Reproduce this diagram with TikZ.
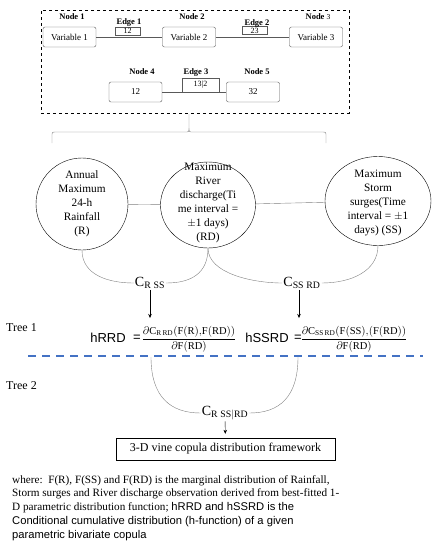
\documentclass[tikz,border=0pt]{standalone}
\usepackage{amsmath}
\usepackage{fontspec}
\setmainfont{Liberation Serif}
\setsansfont{Liberation Sans}
\usetikzlibrary{shapes.geometric,arrows.meta,positioning,calc}

\definecolor{lineblue}{RGB}{68,114,196}
\definecolor{arcgray}{RGB}{128,128,128}
\definecolor{boxgray}{RGB}{89,89,89}

\begin{document}
\begin{tikzpicture}[x=1pt,y=-1pt,
    var box/.style={draw=boxgray, rounded corners=2pt, minimum width=53pt, minimum height=20pt, inner sep=0pt, font=\fontsize{9}{10}\selectfont},
    edge box/.style={draw=boxgray, minimum height=8pt, inner sep=0pt, font=\fontsize{8}{9}\selectfont},
    tag/.style={inner sep=0pt, font=\fontsize{8.5}{10}\selectfont\bfseries},
    var circle/.style={draw, ellipse, inner sep=0pt},
    circle text/.style={align=center, inner sep=0pt, font=\fontsize{11.3}{14}\selectfont},
    cop/.style={inner sep=1pt, font=\fontsize{14}{16}\selectfont},
    link/.style={draw=arcgray},
    hlabel/.style={inner sep=0pt, font=\sffamily\fontsize{13}{15}\selectfont},
    frac text/.style={inner sep=0pt, font=\fontsize{10.5}{12}\selectfont},
    arr/.style={-{Stealth[length=4pt,width=3.5pt]}}]

    \useasboundingbox (0,0) rectangle (443,550);

    % Vine structure (dashed frame)
    \node[draw, dashed, thick, minimum width=308pt, minimum height=103pt] (vine) at (195,61.5) {};

    % Tree 1 of the vine
    \node[var box] (v1) at (69.5,37) {Variable 1};
    \node[var box] (v2) at (189,37) {Variable 2};
    \node[var box] (v3) at (316,37) {Variable 3};
    \node[tag] (tag1) at (72,17) {Node 1};
    \node[tag] (tag2) at (192,17) {Node 2};
    \node[tag] (tag3) at (318,17) {Node {\mdseries\fontsize{7.5}{9}\selectfont 3}};
    \draw[boxgray] (v1) -- (v2);
    \draw[boxgray] (v2) -- (v3);
    \node[edge box, minimum width=25pt] (e1) at (127.5,31) {12};
    \node[edge box, minimum width=25pt] (e2) at (254.5,30.5) {23};
    \node[tag] (etag1) at (129,22) {Edge 1};
    \node[tag] (etag2) at (257,23) {Edge 2};

    % Tree 2 of the vine
    \node[var box] (n4) at (135.5,92) {12};
    \node[var box] (n5) at (253,92) {32};
    \draw[boxgray] (n4) -- (n5);
    \node[edge box, minimum width=37pt, minimum height=14pt, anchor=south] (e3) at (200.5,92) {13|2};
    \node[tag] (tag4) at (142,72) {Node 4};
    \node[tag] (etag3) at (196,72) {Edge 3};
    \node[tag] (tag5) at (257,72) {Node 5};

    % Brace below the frame
    \coordinate (brace) at (189,114);
    \draw[arcgray] (52,143) -- (52,136) .. controls (52,132) .. (56,132) -- (185,132) .. controls (189,132) .. (189,128) -- (brace);
    \draw[arcgray] (189,128) .. controls (189,132) .. (193,132) -- (322,132) .. controls (326,132) .. (326,136) -- (326,143);

    % Variables
    \node[var circle, minimum width=92pt, minimum height=92pt] (rain) at (82,204) {};
    \node[circle text] (raint) at (rain) {Annual\\Maximum\\24-h\\Rainfall\\(R)};
    \node[var circle, minimum width=95pt, minimum height=86pt] (rd) at (208,205) {};
    \node[circle text] (rdt) at (208,202.5) {Maximum\\River\\discharge(Ti\\me interval =\\$\pm$1 days)\\(RD)};
    \node[var circle, minimum width=106pt, minimum height=89pt] (ss) at (378,201) {};
    \node[circle text] (sst) at (378,203) {Maximum\\Storm\\surges(Time\\interval = $\pm$1\\days) (SS)};
    \draw[link] (rain) -- (rd);
    \draw[link] (rd) -- (ss);

    % Pair copulas of tree 1
    \node[cop] (crss) at (150,283) {$\mathrm{C}_{\mathrm{R\;SS}}$};
    \node[cop] (cssrd) at (302,283) {$\mathrm{C}_{\mathrm{SS\;RD}}$};
    \draw[link] (rain.south) .. controls +(0,25) and +(-25,0) .. (crss.west);
    \draw[link] (crss.east) .. controls +(25,0) and +(0,25) .. (rd.south);
    \draw[link] (rd.south) .. controls +(0,25) and +(-30,0) .. (cssrd.west);
    \draw[link] (cssrd.east) .. controls +(30,0) and +(0,25) .. (ss.south);

    \coordinate (h1) at (150,318);
    \coordinate (h2) at (299,318);
    \draw[arr] (crss) -- (h1);
    \draw[arr] (cssrd.south -| h2) -- (h2);

    % h-functions
    \node[hlabel] (hrrd) at (108,338) {hRRD};
    \node[hlabel] (eq1) at (137,338) {=};
    \node[frac text] (f1) at (189,339) {$\dfrac{\partial\mathrm{C}_{\mathrm{R\,RD}}\mathrm{(F(R){,}F(RD))}}{\partial\mathrm{F(RD)}}$};
    \node[hlabel] (hssrd) at (267,338) {hSSRD};
    \node[hlabel] (eq2) at (298,338) {=};
    \node[frac text] (f2) at (354,339) {$\dfrac{\partial\mathrm{C}_{\mathrm{SS\,RD}}\mathrm{(F(SS){,}(F(RD))}}{\partial\mathrm{F(RD)}}$};

    % Tree separator
    \draw[lineblue, line width=2pt, dash pattern=on 8pt off 6pt] (28,356) -- (423,356);
    \node[anchor=west, inner sep=0pt, font=\fontsize{12}{14}\selectfont] (tree1) at (6,328) {Tree 1};
    \node[anchor=west, inner sep=0pt, font=\fontsize{12}{14}\selectfont] (tree2) at (6,386) {Tree 2};

    % Conditional copula of tree 2
    \coordinate (t1) at (151,357);
    \coordinate (t2) at (298,357);
    \node[cop] (crssrd) at (225,413) {$\mathrm{C}_{\mathrm{R\;SS|RD}}$};
    \draw[link] (t1) .. controls +(0,40) and +(-30,0) .. (crssrd.west);
    \draw[link] (crssrd.east) .. controls +(30,0) and +(0,40) .. (t2);

    \node[draw, minimum width=219pt, minimum height=22pt, inner sep=0pt, font=\fontsize{12}{14}\selectfont] (frame) at (225.5,449) {3-D vine copula distribution framework};
    \draw[arr, shorten >=4pt] (crssrd) -- (frame);

    % Note
    \node[anchor=north west, align=left, inner sep=0pt, font=\fontsize{11.2}{13.8}\selectfont] (note) at (12,475) {where:\ \ F(R), F(SS) and F(RD) is the marginal distribution of Rainfall,\\Storm surges and River discharge observation derived from best-fitted 1-\\D parametric distribution function; {\sffamily hRRD and hSSRD is the}\\{\sffamily Conditional cumulative distribution (h-function) of a given}\\{\sffamily parametric bivariate copula}};
\end{tikzpicture}
\end{document}
